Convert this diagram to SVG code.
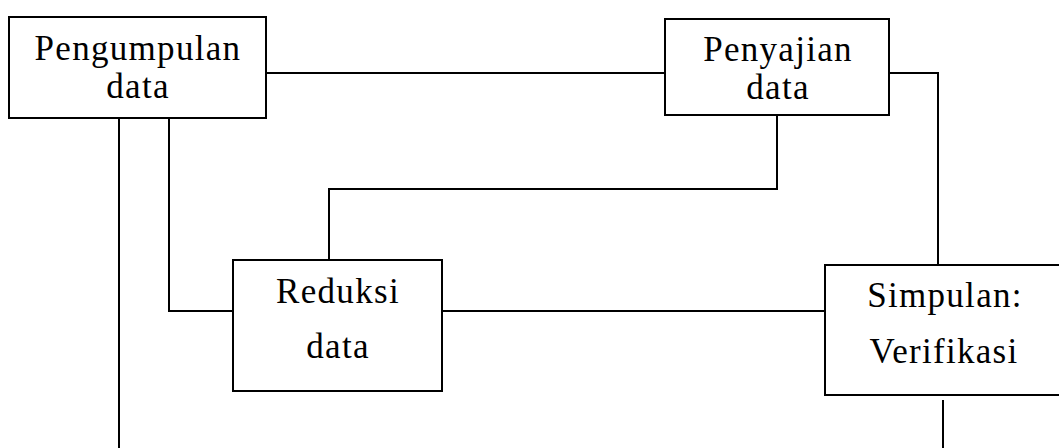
<svg xmlns="http://www.w3.org/2000/svg" width="1059" height="448" viewBox="0 0 1059 448">
<style>
.box{fill:#fff;stroke:#000;stroke-width:2}
.ln{fill:none;stroke:#000;stroke-width:2}
text{font-family:"Liberation Serif","Times New Roman",serif;font-size:35px;fill:#000;text-anchor:middle;letter-spacing:1.3px}
</style>
<rect width="1059" height="448" fill="#fff"/>
<g id="connectors">
<path class="ln" d="M266 73 H665"/>
<path class="ln" d="M889 73 H938 V265"/>
<path class="ln" d="M777 115 V189 H329 V260"/>
<path class="ln" d="M442 311 H825"/>
<path class="ln" d="M119 115 V448"/>
<path class="ln" d="M169 117 V311 H233"/>
<path class="ln" d="M943 400 V448"/>
</g>
<g id="pengumpulan">
<rect class="box" x="9" y="17" width="257" height="101"/>
<text x="138" y="60">Pengumpulan</text>
<text x="138" y="98">data</text>
</g>
<g id="penyajian">
<rect class="box" x="665" y="19" width="224" height="96"/>
<text x="778" y="61">Penyajian</text>
<text x="778" y="99">data</text>
</g>
<g id="reduksi">
<rect class="box" x="233" y="260" width="209" height="131"/>
<text x="338" y="303">Reduksi</text>
<text x="338" y="358">data</text>
</g>
<g id="simpulan">
<rect class="box" x="825" y="265" width="250" height="130"/>
<text x="945" y="307">Simpulan:</text>
<text x="944" y="363">Verifikasi</text>
</g>
</svg>
